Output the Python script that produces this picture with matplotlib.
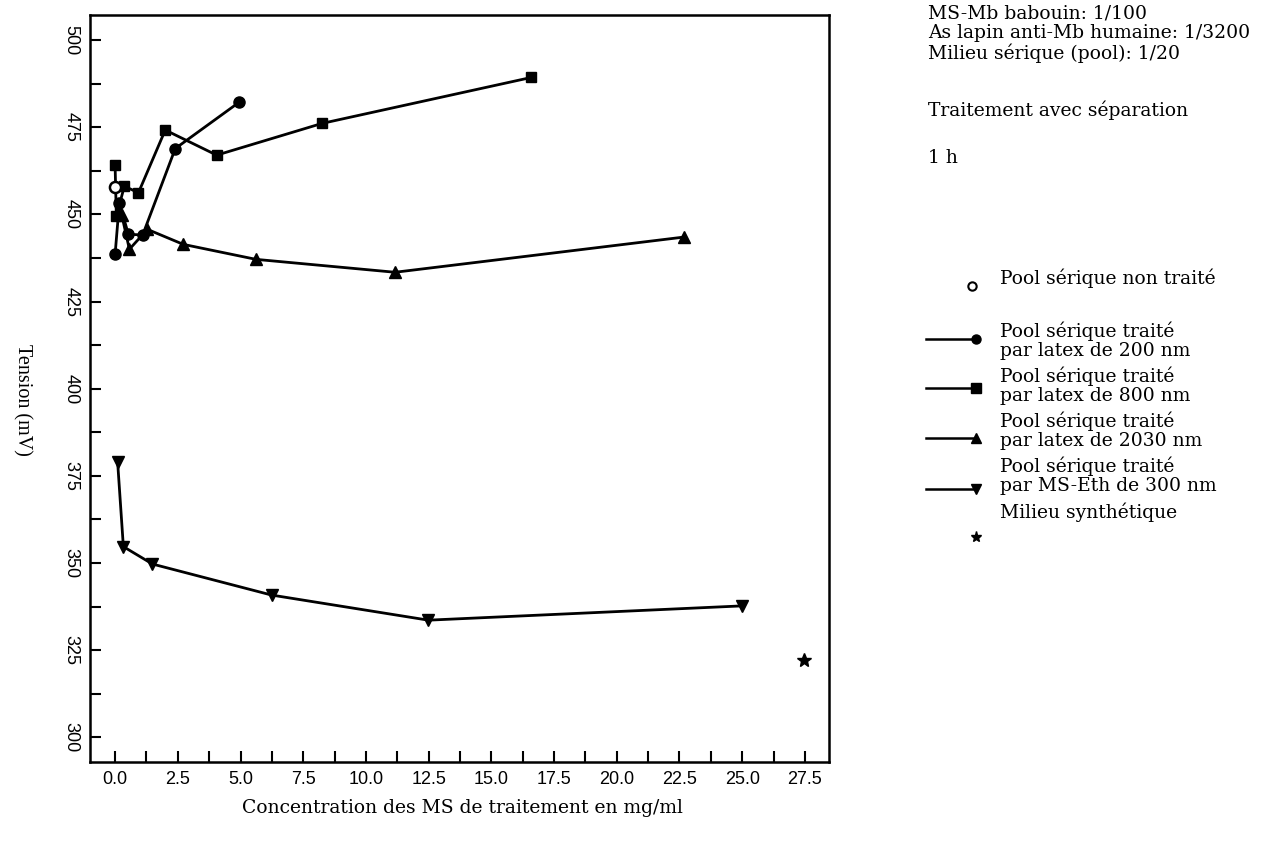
import matplotlib
matplotlib.use("Agg")
import matplotlib.pyplot as plt
from matplotlib.ticker import MultipleLocator, FormatStrFormatter
from matplotlib.lines import Line2D

# ---- data ----
untreated_x = [0.0]
untreated_y = [458.0]

latex200_x = [0.0, 0.17, 0.53, 1.1, 2.4, 4.95]
latex200_y = [438.5, 453.3, 444.3, 444.1, 468.9, 482.2]

latex800_x = [0.0, 0.05, 0.37, 0.93, 2.0, 4.05, 8.25, 16.6]
latex800_y = [464.1, 449.5, 458.1, 456.2, 474.2, 467.0, 476.1, 489.3]

latex2030_x = [0.27, 0.57, 1.29, 2.72, 5.62, 11.16, 22.68]
latex2030_y = [449.7, 440.0, 445.7, 441.4, 437.1, 433.4, 443.5]

mseth_x = [0.1, 0.33, 1.49, 6.24, 12.49, 25.0]
mseth_y = [379.1, 354.7, 349.7, 340.8, 333.6, 337.7]

synth_x = [27.46]
synth_y = [322.2]

xticks = [0.0, 2.5, 5.0, 7.5, 10.0, 12.5, 15.0, 17.5, 20.0, 22.5, 25.0, 27.5]
yticks = [300, 325, 350, 375, 400, 425, 450, 475, 500]

info_lines = ["MS-Mb babouin: 1/100",
              "As lapin anti-Mb humaine: 1/3200",
              "Milieu sérique (pool): 1/20"]
info_treat = "Traitement avec séparation"
info_time = "1 h"

legend_labels = ["Pool sérique non traité",
                 "Pool sérique traité\npar latex de 200 nm",
                 "Pool sérique traité\npar latex de 800 nm",
                 "Pool sérique traité\npar latex de 2030 nm",
                 "Pool sérique traité\npar MS-Eth de 300 nm",
                 "Milieu synthétique"]

WIDE = ["DejaVu Serif"]
SERIF = ["Liberation Serif", "DejaVu Serif"]
NARROW = ["Liberation Sans Narrow", "Liberation Sans", "DejaVu Sans"]
FS = 13.5

W, H = 1273, 841
fig = plt.figure(figsize=(W / 100, H / 100), dpi=100)
ax = fig.add_axes([89.5 / W, 1 - 761.7 / H, (829 - 89.5) / W, (761.7 - 15) / H])

lw = 2.0
ms = 8
ax.plot(latex200_x, latex200_y, "-o", color="black", lw=lw, ms=ms)
ax.plot(latex800_x, latex800_y, "-s", color="black", lw=lw, ms=ms - 0.5)
ax.plot(latex2030_x, latex2030_y, "-^", color="black", lw=lw, ms=ms + 0.5)
ax.plot(mseth_x, mseth_y, "-v", color="black", lw=lw, ms=ms + 0.5)
ax.plot(untreated_x, untreated_y, "o", mfc="white", mec="black", mew=1.8, ms=ms)
ax.plot(synth_x, synth_y, "*", color="black", ms=ms + 2)

ax.set_xlim(-1.02, 28.46)
ax.set_ylim(293.0, 507.2)

ax.xaxis.set_minor_locator(MultipleLocator(1.25))
ax.xaxis.set_major_formatter(FormatStrFormatter("%.1f"))
ax.set_xticks(xticks)
ax.yaxis.set_minor_locator(MultipleLocator(12.5))
ax.set_yticks(yticks)

ax.tick_params(which="both", direction="in", length=8, width=1.5,
               top=False, right=False)
ax.tick_params(axis="x", pad=7)
ax.tick_params(axis="y", pad=7)
for lab in ax.get_xticklabels():
    lab.set_family(NARROW)
    lab.set_fontsize(13)
for lab in ax.get_yticklabels():
    lab.set_family(NARROW)
    lab.set_fontsize(13)
    lab.set_rotation(270)
    lab.set_va("center")

for sp in ax.spines.values():
    sp.set_linewidth(1.8)

fig.text(462 / W, 1 - 808 / H, "Concentration des MS de traitement en mg/ml",
         family=WIDE, fontsize=FS, ha="center", va="center")
fig.text(22 / W, 1 - 400 / H, "Tension (mV)", family=SERIF, fontsize=14.5,
         rotation=270, ha="center", va="center")

# info block
tx = 928 / W
for i, t in enumerate(info_lines):
    fig.text(tx, 1 - (14 + 19.5 * i) / H, t, family=WIDE, fontsize=FS,
             ha="left", va="center")
fig.text(tx, 1 - 110 / H, info_treat, family=WIDE, fontsize=FS, ha="left", va="center")
fig.text(tx, 1 - 158 / H, info_time, family=WIDE, fontsize=FS, ha="left", va="center")

# custom legend drawn in figure coordinates
lx0, lx1, ltx = 926 / W, 976 / W, 1000 / W
fig.add_artist(Line2D([972 / W], [1 - 286 / H], marker="o", mfc="white",
                      mec="black", mew=1.5, ms=6, ls="none"))
fig.text(ltx, 1 - 278 / H, legend_labels[0], family=WIDE, fontsize=FS, va="center")
entries = [("o", 339, 331.7), ("s", 388.3, 376.7), ("^", 437.5, 421.7), ("v", 489.3, 466.7)]
for (mk, ly, ty), lab in zip(entries, legend_labels[1:5]):
    fig.add_artist(Line2D([lx0, lx1], [1 - ly / H, 1 - ly / H], color="black", lw=1.8))
    fig.add_artist(Line2D([lx1], [1 - ly / H], marker=mk, color="black", ms=6.5, ls="none"))
    fig.text(ltx, 1 - (ty - 10) / H, lab, family=WIDE, fontsize=FS,
             va="top", linespacing=1.05)
fig.add_artist(Line2D([976 / W], [1 - 537 / H], marker="*", color="black", ms=8, ls="none"))
fig.text(ltx, 1 - 512 / H, legend_labels[5], family=WIDE, fontsize=FS, va="center")

fig.savefig("out.png", dpi=100)
